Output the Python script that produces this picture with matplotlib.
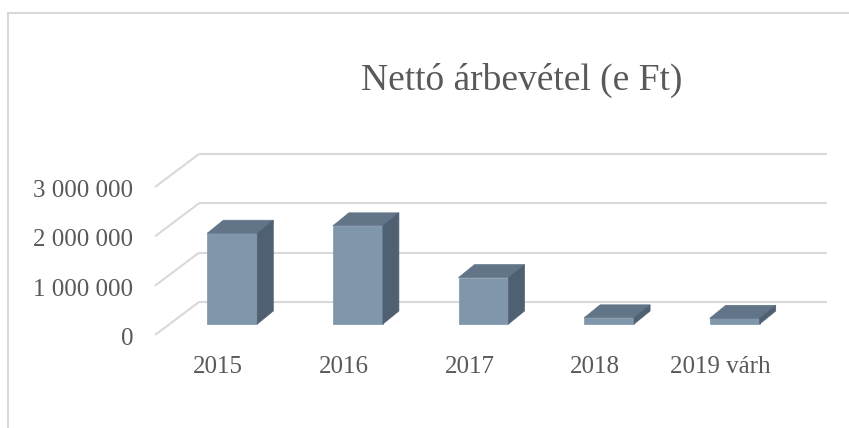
import matplotlib
matplotlib.use("Agg")
import matplotlib.pyplot as plt
from matplotlib.patches import Polygon, Rectangle

years = ["2015", "2016", "2017", "2018", "2019 várh"]
revenue = [1840000, 1990000, 940000, 125000, 115000]
yticks = [0, 1000000, 2000000, 3000000]
ytick_labels = ["0", "1 000 000", "2 000 000", "3 000 000"]
title = "Nettó árbevétel (e Ft)"

text_color = "#595959"
grid_color = "#d9d9d9"
front_color = "#7f96ab"
top_color = "#617488"
side_color = "#4f6072"

plt.rcParams["font.family"] = ["Liberation Serif", "DejaVu Serif"]

W, H = 849, 428
fig = plt.figure(figsize=(W / 100, H / 100), dpi=100)

# plot region (bar-front plane) in pixels
left_px, right_px, top_px, bottom_px = 169.5, 797.5, 176, 324
ax = fig.add_axes([left_px / W, (H - bottom_px) / H,
                   (right_px - left_px) / W, (bottom_px - top_px) / H])
ax.set_xlim(-0.5, len(years) - 0.5)
ax.set_ylim(0, 3000000)
ax.axis("off")

sx = len(years) / (right_px - left_px)
sy = 3000000 / (bottom_px - top_px)

def off(dx_px, dy_px):
    return dx_px * sx, dy_px * sy

# depth offsets (pixels, y up) relative to bar-front plane
ffx, ffy = off(-14.5, -11)   # floor front
fbx, fby = off(29.5, 22)     # floor back / wall
bdx, bdy = off(16, 13)       # bar depth
half = 0.199

x0, x1 = -0.5, len(years) - 0.5
for v in yticks:
    ax.plot([x0 + ffx, x0 + fbx], [v + ffy, v + fby], color=grid_color,
            lw=1.5, clip_on=False, zorder=1, solid_capstyle="butt")
    ax.plot([x0 + fbx, x1 + fbx], [v + fby, v + fby], color=grid_color,
            lw=1.5, clip_on=False, zorder=1, solid_capstyle="butt")

for i, v in enumerate(revenue):
    a, b = i - half, i + half
    front = [(a, 0), (b, 0), (b, v), (a, v)]
    top = [(a, v), (b, v), (b + bdx, v + bdy), (a + bdx, v + bdy)]
    side = [(b, 0), (b + bdx, bdy), (b + bdx, v + bdy), (b, v)]
    for pts, c in [(front, front_color), (top, top_color), (side, side_color)]:
        ax.add_patch(Polygon(pts, closed=True, facecolor=c, edgecolor=c,
                             lw=0.5, clip_on=False, zorder=3))

lx, ly = off(-14, -43)
for i, name in enumerate(years):
    ax.text(i + lx, ly, name, ha="center", va="center", fontsize=18,
            color=text_color, clip_on=False)

tx, ty = off(-14.5 - 22, -15)
for v, lab in zip(yticks, ytick_labels):
    ax.text(x0 + tx, v + ty, lab, ha="right", va="center", fontsize=18,
            color=text_color, clip_on=False)

fig.text(522 / W, 1 - 80 / H, title, ha="center", va="center",
         fontsize=27, color=text_color)

fig.patches.append(Rectangle((8 / W, -0.1), 1.2, 1 - 13 / H + 0.1,
                             transform=fig.transFigure, fill=False,
                             edgecolor=grid_color, lw=1.5))

fig.savefig("out.png", dpi=100)
